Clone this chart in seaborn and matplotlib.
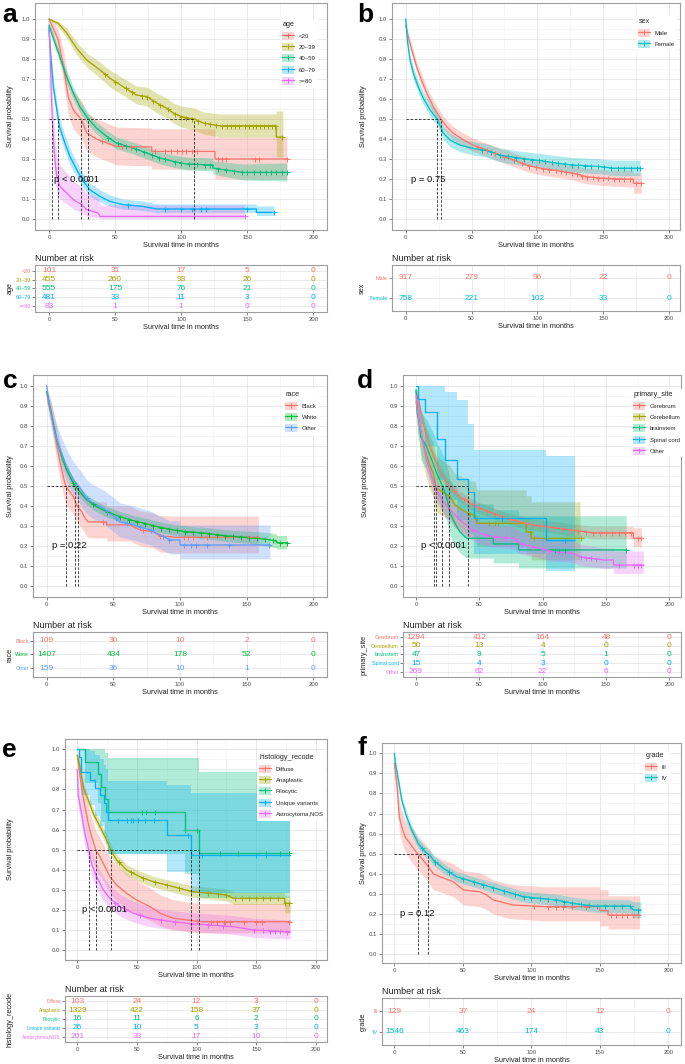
import numpy as np
import pandas as pd
import matplotlib
matplotlib.use("Agg")
import matplotlib.pyplot as plt
import seaborn as sns
from matplotlib.lines import Line2D
from matplotlib.patches import Patch

# ============================ DATA ============================
# curve points: (time in months, survival, lower CI, upper CI)
# (a repeated time marks a visible vertical drop of the Kaplan-Meier step)
time_ticks = [0, 50, 100, 150, 200]

# ---- a: age
age_names = ["<20", "20~39", "40~59", "60~79", ">=80"]
age_lt20 = [(0, 1.0, 1.0, 1.0), (2, 0.97, 0.93, 1.0), (7, 0.895, 0.83, 0.95), (11, 0.76, 0.68, 0.84),
            (14.6, 0.61, 0.52, 0.70), (18.4, 0.545, 0.45, 0.64), (24.7, 0.496, 0.40, 0.59),
            (28.5, 0.43, 0.34, 0.53), (36, 0.40, 0.31, 0.50), (43.6, 0.38, 0.29, 0.48),
            (51, 0.363, 0.27, 0.46), (77.7, 0.36, 0.265, 0.455), (77.7, 0.338, 0.25, 0.45),
            (125.6, 0.338, 0.25, 0.45), (125.6, 0.30, 0.20, 0.41), (180, 0.30, 0.20, 0.41)]
age_2039 = [(0, 1.0, 1.0, 1.0), (7, 0.978, 0.96, 0.99), (13.4, 0.93, 0.905, 0.955), (21, 0.853, 0.82, 0.885),
            (28.5, 0.795, 0.76, 0.83), (38.6, 0.745, 0.705, 0.785), (46, 0.704, 0.66, 0.745),
            (56, 0.662, 0.62, 0.705), (66, 0.62, 0.575, 0.665), (74, 0.612, 0.565, 0.66),
            (81.5, 0.58, 0.53, 0.63), (89, 0.554, 0.505, 0.605), (94, 0.53, 0.48, 0.58),
            (100, 0.512, 0.46, 0.565), (110, 0.50, 0.445, 0.555), (117, 0.479, 0.425, 0.535),
            (129, 0.466, 0.41, 0.525), (172, 0.466, 0.41, 0.525), (172, 0.41, 0.31, 0.54),
            (177, 0.41, 0.31, 0.54)]
age_4059 = [(0, 0.97, 0.955, 0.985), (4.5, 0.88, 0.855, 0.90), (8.3, 0.81, 0.78, 0.835), (13.4, 0.71, 0.68, 0.74),
            (18.4, 0.63, 0.60, 0.66), (23.5, 0.56, 0.53, 0.59), (29.8, 0.50, 0.47, 0.53),
            (36, 0.454, 0.425, 0.485), (43.6, 0.413, 0.385, 0.445), (51, 0.38, 0.35, 0.41),
            (63.8, 0.354, 0.325, 0.385), (74, 0.33, 0.30, 0.36), (84, 0.305, 0.275, 0.335),
            (94, 0.288, 0.258, 0.32), (104, 0.275, 0.245, 0.31), (124, 0.27, 0.24, 0.305),
            (124, 0.255, 0.225, 0.29), (139, 0.24, 0.205, 0.28), (147, 0.233, 0.195, 0.275),
            (180, 0.233, 0.19, 0.28)]
age_6079 = [(0, 0.96, 0.94, 0.98), (0.8, 0.86, 0.83, 0.89), (2, 0.76, 0.72, 0.80), (3.3, 0.66, 0.62, 0.70),
            (5.8, 0.55, 0.51, 0.59), (8, 0.46, 0.42, 0.50), (12, 0.38, 0.34, 0.42), (16, 0.31, 0.27, 0.35),
            (21, 0.246, 0.21, 0.285), (26, 0.188, 0.155, 0.225), (31, 0.146, 0.115, 0.18),
            (38.6, 0.113, 0.085, 0.145), (46, 0.088, 0.065, 0.12), (56, 0.072, 0.05, 0.10),
            (71, 0.063, 0.043, 0.09), (81.5, 0.05, 0.033, 0.075), (157, 0.05, 0.033, 0.075),
            (157, 0.033, 0.017, 0.065), (170, 0.033, 0.017, 0.065)]
age_ge80 = [(0, 0.945, 0.90, 0.99), (0.8, 0.845, 0.77, 0.92), (1.5, 0.68, 0.59, 0.78), (2.5, 0.50, 0.41, 0.61),
            (3.3, 0.396, 0.30, 0.52), (4.5, 0.296, 0.21, 0.42), (5.8, 0.213, 0.14, 0.32),
            (8.3, 0.163, 0.10, 0.27), (13.4, 0.13, 0.075, 0.23), (18.4, 0.097, 0.05, 0.19),
            (24.7, 0.072, 0.03, 0.16), (28.5, 0.047, 0.015, 0.13), (37, 0.03, 0.006, 0.11),
            (38.6, 0.013, 0.002, 0.07), (148, 0.013, 0.002, 0.07)]
cen_lt20 = [40, 55, 62, 80, 88, 92, 97, 101, 104, 108, 112, 128, 131, 134, 156, 159, 180]
cen_2039 = [42, 50, 58, 63, 70, 74, 79, 84, 90, 95, 100, 104, 108, 113, 118, 122, 126, 131, 135, 138,
            141, 144, 148, 151, 154, 157, 160, 163, 166, 169, 171, 176]
cen_4059 = [45, 52, 58, 66, 72, 78, 83, 88, 95, 100, 106, 112, 118, 122, 128, 134, 140, 146, 150, 155,
            160, 164, 168, 172, 176, 180]
cen_6079 = [60, 88, 100, 108, 115, 119, 150, 170]
cen_ge80 = [148]
risk_age = [[101, 31, 17, 5, 0], [455, 260, 93, 26, 0], [555, 175, 76, 21, 0], [481, 33, 11, 3, 0], [83, 1, 1, 0, 0]]

# ---- b: sex
sex_names = ["Male", "Female"]
sex_male = [(0, 0.97, 0.95, 0.99), (2, 0.91, 0.89, 0.93), (4.6, 0.845, 0.82, 0.87), (8.4, 0.76, 0.735, 0.785),
            (12, 0.695, 0.665, 0.725), (16, 0.63, 0.60, 0.66), (21, 0.562, 0.53, 0.595),
            (26.8, 0.50, 0.468, 0.533), (31, 0.463, 0.43, 0.496), (36, 0.43, 0.398, 0.463),
            (44, 0.396, 0.364, 0.43), (51, 0.371, 0.339, 0.405), (61.5, 0.346, 0.313, 0.38),
            (71.6, 0.32, 0.288, 0.355), (82, 0.296, 0.263, 0.332), (92, 0.27, 0.238, 0.307),
            (102, 0.255, 0.222, 0.292), (115, 0.243, 0.21, 0.281), (127, 0.23, 0.196, 0.27),
            (137, 0.213, 0.178, 0.255), (147.6, 0.205, 0.169, 0.248), (173, 0.20, 0.16, 0.245),
            (173, 0.18, 0.13, 0.232), (179, 0.18, 0.13, 0.232)]
sex_female = [(0, 1.0, 1.0, 1.0), (0.5, 0.96, 0.945, 0.975), (1.5, 0.88, 0.86, 0.90), (3.3, 0.795, 0.77, 0.82),
              (5.8, 0.73, 0.70, 0.76), (9.6, 0.66, 0.63, 0.69), (13.4, 0.604, 0.572, 0.636),
              (18.5, 0.546, 0.513, 0.579), (24, 0.50, 0.467, 0.533), (28.6, 0.43, 0.397, 0.463),
              (33.7, 0.396, 0.363, 0.43), (41, 0.371, 0.338, 0.405), (51, 0.354, 0.321, 0.388),
              (61.5, 0.343, 0.31, 0.377), (71.6, 0.32, 0.287, 0.355), (87, 0.305, 0.271, 0.34),
              (102, 0.293, 0.259, 0.329), (115, 0.28, 0.245, 0.317), (127, 0.271, 0.236, 0.309),
              (147.6, 0.263, 0.227, 0.302), (158, 0.255, 0.218, 0.295), (178, 0.255, 0.218, 0.295)]
cen_male = [55, 62, 68, 75, 82, 88, 94, 99, 104, 109, 114, 118, 122, 126, 130, 134, 138, 142, 146, 150,
            154, 158, 162, 166, 170, 175, 179]
cen_female = [58, 65, 72, 78, 84, 90, 96, 101, 106, 111, 116, 121, 126, 131, 136, 141, 146, 151, 156, 161,
              166, 171, 176, 178]
risk_sex = [[917, 279, 96, 22, 0], [758, 221, 102, 33, 0]]

# ---- c: race
race_names = ["Black", "White", "Other"]
race_black = [(0, 0.97, 0.93, 1.0), (1.25, 0.91, 0.86, 0.96), (3.75, 0.845, 0.78, 0.91), (6.25, 0.76, 0.68, 0.84),
              (8.75, 0.66, 0.575, 0.75), (11.25, 0.58, 0.495, 0.675), (13.75, 0.51, 0.42, 0.61),
              (16.25, 0.48, 0.39, 0.58), (20, 0.446, 0.36, 0.545), (22.5, 0.404, 0.32, 0.505),
              (26.25, 0.371, 0.29, 0.47), (28.75, 0.338, 0.26, 0.44), (31.25, 0.32, 0.24, 0.42),
              (45, 0.32, 0.24, 0.42), (45, 0.305, 0.225, 0.40), (63, 0.305, 0.225, 0.40),
              (65, 0.296, 0.215, 0.39), (70, 0.28, 0.20, 0.375), (80, 0.271, 0.19, 0.365),
              (85, 0.25, 0.17, 0.35), (97.5, 0.243, 0.165, 0.348), (158.75, 0.243, 0.165, 0.348)]
race_white = [(0, 0.97, 0.96, 0.98), (2.5, 0.895, 0.88, 0.91), (5, 0.81, 0.79, 0.83), (7.5, 0.73, 0.71, 0.75),
              (11.25, 0.646, 0.62, 0.67), (15, 0.58, 0.555, 0.605), (20, 0.512, 0.486, 0.538),
              (25, 0.47, 0.444, 0.496), (30, 0.43, 0.404, 0.456), (37.5, 0.396, 0.37, 0.422),
              (45, 0.371, 0.345, 0.397), (55, 0.346, 0.32, 0.372), (65, 0.326, 0.30, 0.352),
              (75, 0.31, 0.284, 0.337), (85, 0.293, 0.267, 0.32), (95, 0.28, 0.254, 0.307),
              (105, 0.271, 0.244, 0.299), (120, 0.263, 0.235, 0.292), (135, 0.25, 0.222, 0.28),
              (150, 0.243, 0.214, 0.274), (165, 0.233, 0.20, 0.268), (172.5, 0.225, 0.19, 0.26),
              (172.5, 0.216, 0.185, 0.252), (180, 0.216, 0.185, 0.252)]
race_other = [(0, 1.0, 1.0, 1.0), (1.25, 0.93, 0.89, 0.97), (3.75, 0.845, 0.79, 0.90), (6.25, 0.76, 0.70, 0.83),
              (10, 0.68, 0.61, 0.76), (15, 0.596, 0.52, 0.68), (20, 0.53, 0.455, 0.62), (26, 0.48, 0.40, 0.57),
              (30, 0.438, 0.36, 0.53), (35, 0.413, 0.335, 0.505), (42.5, 0.388, 0.31, 0.48),
              (47.5, 0.363, 0.285, 0.455), (55, 0.32, 0.245, 0.415), (65, 0.305, 0.23, 0.40),
              (77.5, 0.28, 0.205, 0.375), (85, 0.255, 0.185, 0.35), (92.5, 0.23, 0.16, 0.325),
              (100, 0.23, 0.16, 0.325), (100, 0.205, 0.135, 0.305), (167.5, 0.205, 0.135, 0.305)]
cen_black = [42, 72, 85, 103, 106, 110, 120, 152, 158]
cen_white = [20, 35, 45, 55, 62, 68, 74, 80, 86, 92, 98, 104, 110, 116, 122, 128, 134, 140, 146, 152,
             158, 164, 170, 175, 180]
cen_other = [30, 45, 52, 60, 70, 78, 87, 92, 103, 108, 112, 120, 137, 167]
risk_race = [[109, 30, 10, 2, 0], [1407, 434, 178, 52, 0], [159, 36, 10, 1, 0]]

# ---- d: primary_site
site_names = ["Cerebrum", "Cerebellum", "brainstem", "Spinal cord", "Other"]
site_cerebrum = [(0, 0.97, 0.96, 0.98), (1.8, 0.93, 0.915, 0.945), (4.5, 0.845, 0.825, 0.865),
                 (7, 0.78, 0.757, 0.803), (11, 0.695, 0.67, 0.72), (15, 0.63, 0.604, 0.656),
                 (19, 0.57, 0.543, 0.597), (24, 0.52, 0.493, 0.547), (26.8, 0.495, 0.468, 0.522),
                 (29.5, 0.48, 0.453, 0.507), (34.7, 0.446, 0.419, 0.473), (42.6, 0.413, 0.386, 0.44),
                 (50.5, 0.388, 0.361, 0.415), (61, 0.363, 0.336, 0.39), (71.6, 0.338, 0.311, 0.366),
                 (82, 0.32, 0.292, 0.348), (92, 0.305, 0.277, 0.334), (108, 0.293, 0.264, 0.323),
                 (122, 0.28, 0.25, 0.311), (140, 0.266, 0.235, 0.298), (171.6, 0.266, 0.235, 0.298),
                 (171.6, 0.238, 0.195, 0.29), (178, 0.238, 0.195, 0.29)]
site_cerebellum = [(0, 0.92, 0.85, 0.99), (1, 0.88, 0.80, 0.97), (2.6, 0.81, 0.71, 0.92), (4.5, 0.745, 0.64, 0.87),
                   (7, 0.68, 0.57, 0.81), (11, 0.60, 0.48, 0.75), (13.7, 0.56, 0.44, 0.71),
                   (15.8, 0.49, 0.37, 0.65), (27, 0.446, 0.33, 0.60), (30.8, 0.404, 0.29, 0.56),
                   (41, 0.363, 0.25, 0.53), (47, 0.35, 0.24, 0.52), (48, 0.313, 0.20, 0.48),
                   (87, 0.313, 0.20, 0.48), (87, 0.27, 0.16, 0.45), (91, 0.27, 0.16, 0.45),
                   (91, 0.238, 0.13, 0.42), (129.5, 0.238, 0.13, 0.42)]
site_brainstem = [(0, 0.98, 0.94, 1.0), (1, 0.86, 0.77, 0.96), (2.6, 0.82, 0.72, 0.93), (3.7, 0.745, 0.63, 0.87),
                  (8.4, 0.695, 0.58, 0.83), (12.4, 0.63, 0.51, 0.78), (16.3, 0.563, 0.44, 0.72),
                  (21.6, 0.49, 0.37, 0.65), (24, 0.446, 0.33, 0.61), (27, 0.363, 0.25, 0.53),
                  (30.8, 0.313, 0.20, 0.48), (34.7, 0.27, 0.165, 0.44), (40, 0.238, 0.14, 0.41),
                  (61, 0.238, 0.14, 0.41), (61, 0.21, 0.115, 0.38), (81, 0.21, 0.115, 0.38),
                  (81, 0.18, 0.09, 0.35), (166, 0.18, 0.09, 0.35)]
site_spinal = [(0, 1.0, 1.0, 1.0), (1.8, 1.0, 1.0, 1.0), (1.8, 0.933, 0.81, 1.0), (7.1, 0.933, 0.81, 1.0),
               (7.1, 0.867, 0.70, 1.0), (16.3, 0.867, 0.70, 1.0), (16.3, 0.733, 0.53, 1.0),
               (22.9, 0.733, 0.53, 1.0), (22.9, 0.63, 0.43, 0.97), (32, 0.63, 0.43, 0.97),
               (32, 0.533, 0.33, 0.93), (40.8, 0.533, 0.33, 0.93), (40.8, 0.467, 0.26, 0.81),
               (46, 0.467, 0.26, 0.81), (46, 0.34, 0.16, 0.68), (103, 0.34, 0.16, 0.68),
               (103, 0.228, 0.075, 0.65), (125.5, 0.228, 0.075, 0.65)]
site_other = [(0, 0.95, 0.92, 0.98), (1, 0.88, 0.84, 0.92), (3.2, 0.795, 0.745, 0.845), (5.8, 0.71, 0.655, 0.765),
              (8.4, 0.63, 0.572, 0.688), (12.4, 0.546, 0.487, 0.605), (15, 0.49, 0.43, 0.55),
              (21.6, 0.42, 0.36, 0.48), (27, 0.38, 0.321, 0.44), (34.7, 0.33, 0.273, 0.39),
              (42.6, 0.288, 0.233, 0.348), (50.5, 0.263, 0.21, 0.323), (61, 0.246, 0.194, 0.306),
              (77, 0.238, 0.186, 0.298), (82, 0.213, 0.162, 0.274), (92.6, 0.196, 0.147, 0.257),
              (108, 0.171, 0.125, 0.232), (124, 0.163, 0.117, 0.225), (129.5, 0.146, 0.102, 0.208),
              (148, 0.13, 0.088, 0.19), (156, 0.13, 0.088, 0.19), (156, 0.105, 0.063, 0.175),
              (179.5, 0.105, 0.063, 0.175)]
cen_cerebrum = [30, 38, 44, 50, 56, 62, 68, 74, 80, 86, 92, 98, 104, 110, 116, 122, 128, 134, 140, 145,
                150, 155, 160, 165, 170, 175, 178]
cen_cerebellum = [43, 58, 62, 65, 90, 93, 130]
cen_brainstem = [110, 113, 118, 166]
cen_spinal = [48, 68, 118]
cen_site_other = [45, 55, 62, 70, 78, 84, 92, 100, 105, 112, 130, 134, 138, 142, 160, 172, 175, 178]
risk_site = [[1294, 412, 164, 48, 0], [50, 13, 4, 0, 0], [47, 9, 5, 1, 0], [15, 4, 3, 0, 0], [269, 62, 22, 6, 0]]

# ---- e: histology_recode
hist_names = ["Diffuse", "Anaplastic", "Pilocytic", "Unique variants", "Astrocytoma,NOS"]
hist_diffuse = [(0, 0.97, 0.93, 1.0), (1.4, 0.91, 0.85, 0.96), (3.6, 0.81, 0.73, 0.88), (6.4, 0.714, 0.63, 0.80),
                (9.2, 0.63, 0.54, 0.72), (12, 0.565, 0.47, 0.66), (15.7, 0.495, 0.40, 0.59),
                (19, 0.465, 0.37, 0.56), (23.2, 0.415, 0.33, 0.51), (27.4, 0.365, 0.28, 0.46),
                (33, 0.324, 0.245, 0.42), (41.4, 0.282, 0.205, 0.38), (49.8, 0.249, 0.175, 0.345),
                (61, 0.216, 0.148, 0.31), (69.4, 0.183, 0.12, 0.275), (80.6, 0.158, 0.10, 0.25),
                (91.7, 0.15, 0.093, 0.24), (103, 0.141, 0.085, 0.232), (178.5, 0.141, 0.085, 0.232)]
hist_anaplastic = [(0, 0.97, 0.96, 0.98), (2.2, 0.91, 0.895, 0.925), (5, 0.81, 0.79, 0.83), (9.2, 0.748, 0.725, 0.77),
                   (13.4, 0.68, 0.655, 0.705), (19, 0.615, 0.588, 0.642), (24.6, 0.548, 0.52, 0.575),
                   (28, 0.498, 0.47, 0.525), (33, 0.449, 0.422, 0.476), (41.4, 0.399, 0.372, 0.426),
                   (52.6, 0.365, 0.338, 0.392), (63.8, 0.34, 0.313, 0.367), (75, 0.324, 0.296, 0.351),
                   (86, 0.307, 0.279, 0.335), (97, 0.29, 0.262, 0.319), (114, 0.282, 0.253, 0.311),
                   (125, 0.274, 0.245, 0.304), (131, 0.257, 0.227, 0.288), (174, 0.257, 0.227, 0.288),
                   (174, 0.233, 0.185, 0.27), (178.5, 0.233, 0.185, 0.27)]
hist_pilocytic = [(0, 1.0, 1.0, 1.0), (6.4, 1.0, 1.0, 1.0), (6.4, 0.9375, 0.83, 1.0), (17.6, 0.9375, 0.83, 1.0),
                  (17.6, 0.875, 0.73, 1.0), (20, 0.875, 0.73, 1.0), (20, 0.8125, 0.64, 1.0),
                  (23, 0.8125, 0.64, 1.0), (23, 0.75, 0.56, 0.98), (26, 0.75, 0.56, 0.98),
                  (26, 0.6875, 0.48, 0.955), (90, 0.6875, 0.48, 0.955), (90, 0.60, 0.38, 0.955),
                  (102.5, 0.60, 0.38, 0.955), (102.5, 0.483, 0.26, 0.887), (178.5, 0.483, 0.26, 0.887)]
hist_unique = [(0, 1.0, 1.0, 1.0), (1.5, 1.0, 1.0, 1.0), (1.5, 0.962, 0.89, 1.0), (2.8, 0.962, 0.89, 1.0),
               (2.8, 0.885, 0.77, 1.0), (10.6, 0.885, 0.77, 1.0), (10.6, 0.846, 0.72, 0.99),
               (14.8, 0.846, 0.72, 0.99), (14.8, 0.808, 0.67, 0.97), (19, 0.808, 0.67, 0.97),
               (19, 0.77, 0.62, 0.95), (22, 0.77, 0.62, 0.95), (22, 0.73, 0.58, 0.92), (24, 0.73, 0.58, 0.92),
               (24, 0.69, 0.53, 0.90), (26, 0.69, 0.53, 0.90), (26, 0.646, 0.48, 0.84), (75, 0.646, 0.48, 0.84),
               (75, 0.571, 0.39, 0.82), (95.2, 0.571, 0.39, 0.82), (95.2, 0.472, 0.285, 0.78),
               (178.5, 0.472, 0.285, 0.78)]
hist_astro = [(0, 0.90, 0.86, 0.94), (0.8, 0.77, 0.71, 0.83), (3.6, 0.68, 0.62, 0.74), (6.4, 0.58, 0.52, 0.645),
              (9.8, 0.495, 0.43, 0.56), (12, 0.43, 0.37, 0.495), (16.2, 0.365, 0.305, 0.43),
              (21.8, 0.30, 0.245, 0.365), (27.4, 0.257, 0.205, 0.32), (36, 0.216, 0.168, 0.277),
              (47, 0.183, 0.138, 0.243), (61, 0.158, 0.116, 0.215), (75, 0.145, 0.105, 0.20),
              (91.7, 0.133, 0.094, 0.188), (131, 0.116, 0.078, 0.172), (148, 0.10, 0.063, 0.158),
              (176, 0.091, 0.055, 0.15), (178.5, 0.091, 0.055, 0.15)]
cen_diffuse = [100, 112, 117, 123, 124, 128, 140, 150, 155, 178]
cen_anaplastic = [35, 45, 55, 65, 75, 85, 95, 102, 110, 118, 125, 132, 138, 144, 150, 156, 162, 168, 174, 178]
cen_pilocytic = [54, 58, 65, 90, 100, 120, 135, 158, 170, 178]
cen_unique = [34, 42, 45, 47, 51, 57, 64, 93, 105, 150, 158]
cen_astro = [32, 40, 53, 70, 82, 95, 110, 122, 148, 156, 162, 166, 170, 176]
risk_hist = [[103, 24, 12, 3, 0], [1329, 422, 158, 37, 0], [16, 11, 6, 2, 0], [26, 10, 5, 3, 0], [201, 33, 17, 10, 0]]

# ---- f: grade
grade_names = ["III", "IV"]
grade_III = [(0, 0.95, 0.91, 0.99), (1.2, 0.88, 0.83, 0.94), (2.2, 0.82, 0.76, 0.89), (3.6, 0.684, 0.61, 0.77),
             (5.4, 0.635, 0.56, 0.72), (7.8, 0.585, 0.51, 0.67), (11.4, 0.55, 0.47, 0.64),
             (17, 0.50, 0.42, 0.59), (21, 0.468, 0.39, 0.56), (24.8, 0.435, 0.36, 0.53),
             (28.5, 0.40, 0.32, 0.49), (33.3, 0.385, 0.31, 0.475), (43, 0.36, 0.285, 0.45),
             (50.4, 0.319, 0.245, 0.415), (62.5, 0.31, 0.235, 0.405), (67.4, 0.294, 0.22, 0.39),
             (72, 0.27, 0.20, 0.37), (82, 0.252, 0.18, 0.35), (87, 0.244, 0.175, 0.345),
             (108.8, 0.236, 0.165, 0.335), (150, 0.236, 0.165, 0.335), (150, 0.216, 0.14, 0.32),
             (156, 0.216, 0.14, 0.32), (156, 0.194, 0.125, 0.29), (179, 0.194, 0.125, 0.29)]
grade_IV = [(0, 1.0, 1.0, 1.0), (0.5, 0.97, 0.96, 0.98), (1.2, 0.934, 0.92, 0.947), (3, 0.867, 0.85, 0.884),
            (5.4, 0.767, 0.746, 0.788), (9, 0.684, 0.66, 0.707), (12.7, 0.618, 0.594, 0.642),
            (17.5, 0.551, 0.526, 0.576), (22.4, 0.51, 0.485, 0.535), (26.3, 0.49, 0.465, 0.515),
            (28.5, 0.468, 0.443, 0.493), (35.8, 0.427, 0.402, 0.452), (45.5, 0.385, 0.36, 0.41),
            (57.7, 0.36, 0.335, 0.386), (69.8, 0.335, 0.31, 0.361), (82, 0.31, 0.284, 0.337),
            (94, 0.286, 0.26, 0.313), (106, 0.277, 0.25, 0.305), (118.5, 0.269, 0.241, 0.298),
            (130.7, 0.252, 0.223, 0.282), (145, 0.239, 0.209, 0.271), (172, 0.239, 0.205, 0.27),
            (174.5, 0.219, 0.18, 0.26), (180, 0.219, 0.18, 0.26)]
cen_III = [102, 112, 118, 123, 130, 140, 158, 162, 166, 170, 174, 178]
cen_IV = [20, 30, 40, 50, 58, 65, 72, 80, 88, 95, 100, 106, 112, 118, 124, 130, 136, 142, 148, 154, 160,
          166, 172, 178]
risk_grade = [[129, 37, 24, 12, 0], [1546, 463, 174, 43, 0]]

hue5 = ["#F8766D", "#A3A500", "#00BF7D", "#00B0F6", "#E76BF3"]
hue2 = ["#F8766D", "#00BFC4"]
hue3 = ["#F8766D", "#00BA38", "#619CFF"]

# ============================ STYLE / LAYOUT ============================
sns.set_theme(style="white")
plt.rcParams["font.family"] = ["Liberation Sans", "DejaVu Sans"]

W, H = 685, 1064
fig = plt.figure(figsize=(W / 100, H / 100), dpi=100)

GRID_MAJ = "#E6E6E6"
GRID_MIN = "#F2F2F2"
SPINE = "#9E9E9E"
TXT = "#4D4D4D"


def rect(l, t, r, b):
    return [l / W, 1 - b / H, (r - l) / W, (b - t) / H]


def curve_value(rows, times):
    t = np.array([r[0] for r in rows])
    s = np.array([r[1] for r in rows])
    return np.interp(np.asarray(times, float), t, s)


def median_time(rows):
    for i, row in enumerate(rows):
        if row[1] <= 0.5:
            if i == 0:
                return row[0]
            t0, s0 = rows[i - 1][0], rows[i - 1][1]
            t1, s1 = row[0], row[1]
            if s0 == s1:
                return t1
            return t0 + (s0 - 0.5) / (s0 - s1) * (t1 - t0)
    return None


def style_axes(ax, ymajor, yminor):
    ax.set_xticks(time_ticks)
    ax.set_xticks([25, 75, 125, 175], minor=True)
    ax.set_yticks(ymajor)
    ax.set_yticks(yminor, minor=True)
    ax.grid(which="major", color=GRID_MAJ, lw=0.6)
    ax.grid(which="minor", color=GRID_MIN, lw=0.45)
    ax.set_axisbelow(True)
    for sp in ax.spines.values():
        sp.set_color(SPINE)
        sp.set_linewidth(0.8)
    ax.tick_params(which="major", length=2, width=0.5, color="#555555", labelsize=4.3,
                   labelcolor=TXT, pad=1.5, bottom=True, left=True)
    ax.tick_params(which="minor", length=0)


def panel(letter, letter_xy, var, names, colors, curves, censors, risk, pval,
          box, xpx, ypx, tbox, ylab_x, tylab_x, leg_xy, tick_fs=3.9):
    l, t, r, b = box
    x0, x200 = xpx
    y1, y0 = ypx
    xs = (x200 - x0) / 200.0
    ys = (y0 - y1)
    xlim = ((l - x0) / xs, (r - x0) / xs)
    ylim = ((y0 - b) / ys, (y0 - t) / ys)

    ax = fig.add_axes(rect(*box))
    frames = []
    for name, rows in zip(names, curves):
        df = pd.DataFrame(rows, columns=["time", "surv", "low", "high"])
        df["group"] = name
        frames.append(df)
    data = pd.concat(frames, ignore_index=True)
    pal = dict(zip(names, colors))

    for name in names:
        d = data[data["group"] == name]
        ax.fill_between(d["time"], d["low"], d["high"], color=pal[name], alpha=0.3, lw=0)
    sns.lineplot(data=data, x="time", y="surv", hue="group", hue_order=names, palette=pal,
                 estimator=None, sort=False, legend=False, ax=ax, lw=0.95)
    for name, rows, ct in zip(names, curves, censors):
        sv = curve_value(rows, ct)
        ax.plot(ct, sv, ls="none", marker="+", ms=3.6, mew=0.7, color=pal[name])

    # median survival lines
    meds = [m for m in (median_time(rows) for rows in curves) if m is not None]
    if meds:
        ax.plot([0, max(meds)], [0.5, 0.5], color="#222222", lw=0.6, dashes=(3, 2))
        for m in meds:
            ax.plot([m, m], [0, 0.5], color="#222222", lw=0.6, dashes=(3, 2))

    ax.text(4, 0.2, pval, fontsize=6.8, ha="left", va="center", color="#111111")

    ax.set_xlim(*xlim)
    ax.set_ylim(*ylim)
    style_axes(ax, np.round(np.arange(0, 1.01, 0.1), 1),
               [0.05, 0.15, 0.25, 0.35, 0.45, 0.55, 0.65, 0.75, 0.85, 0.95])
    ax.set_yticklabels([f"{v:.1f}" for v in np.arange(0, 1.01, 0.1)])
    ax.set_xlabel("Survival time in months", fontsize=5.3, color="#222222", labelpad=1.5)
    ax.set_ylabel("Survival probability", fontsize=5.3, color="#222222")
    ax.yaxis.set_label_coords((ylab_x + 4 - l) / (r - l), 0.5)

    # legend
    handles = [(Patch(facecolor=c, alpha=0.3, lw=0),
                Line2D([], [], color=c, lw=0.9, marker="+", ms=3.6, mew=0.7)) for c in colors]
    lx, ly = leg_xy
    leg = ax.legend(handles, names, title=var, loc="upper left",
                    bbox_to_anchor=((lx - l) / (r - l), 1 - (ly - t) / (b - t)),
                    fontsize=4.3, title_fontsize=5.2, handlelength=1.9, handleheight=1.7,
                    labelspacing=0.55, handletextpad=0.8, borderpad=0.4, frameon=True,
                    facecolor="white", edgecolor="none", framealpha=1, alignment="left")
    leg.get_frame().set_linewidth(0)

    fig.text(letter_xy[0] / W, 1 - letter_xy[1] / H, letter, fontsize=19, fontweight="bold",
             ha="left", va="baseline", color="black")

    # risk table
    tl, tt, tr, tb = tbox
    tax = fig.add_axes(rect(*tbox))
    n = len(names)
    rows_y = [n - i for i in range(n)]
    for yv, name, vals in zip(rows_y, names, risk):
        for tm, v in zip(time_ticks, vals):
            tax.text(tm, yv, str(v), color=pal[name], fontsize=6.0, ha="center", va="center")
    tax.set_xlim(*xlim)
    tax.set_ylim(1 - 0.62, n + 0.62)
    style_axes(tax, rows_y, [])
    tax.set_yticklabels(names)
    tax.tick_params(axis="y", labelsize=tick_fs, pad=1)
    for lab, name in zip(tax.get_yticklabels(), names):
        lab.set_color(pal[name])
    tax.set_xlabel("Survival time in months", fontsize=5.3, color="#222222", labelpad=1.5)
    tax.set_ylabel(var, fontsize=5.3, color="#222222")
    tax.yaxis.set_label_coords((tylab_x + 4 - tl) / (tr - tl), 0.5)
    tax.set_title("Number at risk", loc="left", fontsize=6.5, pad=3, color="#222222")


# ---- a
panel("a", (2, 22), "age", age_names, hue5,
      [age_lt20, age_2039, age_4059, age_6079, age_ge80],
      [cen_lt20, cen_2039, cen_4059, cen_6079, cen_ge80], risk_age, "p < 0.0001",
      box=(35, 3, 327, 230), xpx=(49, 313.3), ypx=(19, 219),
      tbox=(35, 265, 327, 312), ylab_x=10, tylab_x=10, leg_xy=(277, 16))
# ---- b
panel("b", (357, 22), "sex", sex_names, hue2, [sex_male, sex_female],
      [cen_male, cen_female], risk_sex, "p = 0.75",
      box=(392, 3, 680, 230), xpx=(405.7, 669), ypx=(19, 219.3),
      tbox=(392, 265, 680, 311), ylab_x=363, tylab_x=362, leg_xy=(633, 13))
# ---- c
panel("c", (3, 388), "race", race_names, hue3, [race_black, race_white, race_other],
      [cen_black, cen_white, cen_other], risk_race, "p = 0.22",
      box=(33, 375, 327, 597), xpx=(46.7, 313.3), ypx=(385.7, 586),
      tbox=(33, 632, 327, 677), ylab_x=10, tylab_x=10, leg_xy=(280, 386))
# ---- d
panel("d", (357, 388), "primary_site", site_names, hue5,
      [site_cerebrum, site_cerebellum, site_brainstem, site_spinal, site_other],
      [cen_cerebrum, cen_cerebellum, cen_brainstem, cen_spinal, cen_site_other], risk_site, "p < 0.0001",
      box=(403, 375, 681, 597), xpx=(416, 669.3), ypx=(385.7, 586),
      tbox=(403, 632, 681, 677), ylab_x=365, tylab_x=364, leg_xy=(628, 386))
# ---- e
panel("e", (2, 757), "histology_recode", hist_names, hue5,
      [hist_diffuse, hist_anaplastic, hist_pilocytic, hist_unique, hist_astro],
      [cen_diffuse, cen_anaplastic, cen_pilocytic, cen_unique, cen_astro], risk_hist, "p < 0.0001",
      box=(65, 739, 327, 960), xpx=(77.3, 315.7), ypx=(749.3, 950),
      tbox=(65, 996, 327, 1042), ylab_x=10, tylab_x=10, leg_xy=(254, 749), tick_fs=3.4)
# ---- f
panel("f", (357, 755), "grade", grade_names, hue2, [grade_III, grade_IV],
      [cen_III, cen_IV], risk_grade, "p = 0.12",
      box=(382, 743, 681, 963), xpx=(394.3, 668.3), ypx=(753.3, 954),
      tbox=(382, 998, 681, 1045), ylab_x=363, tylab_x=363, leg_xy=(640, 747))

fig.savefig("out.png", dpi=100, facecolor="white")
